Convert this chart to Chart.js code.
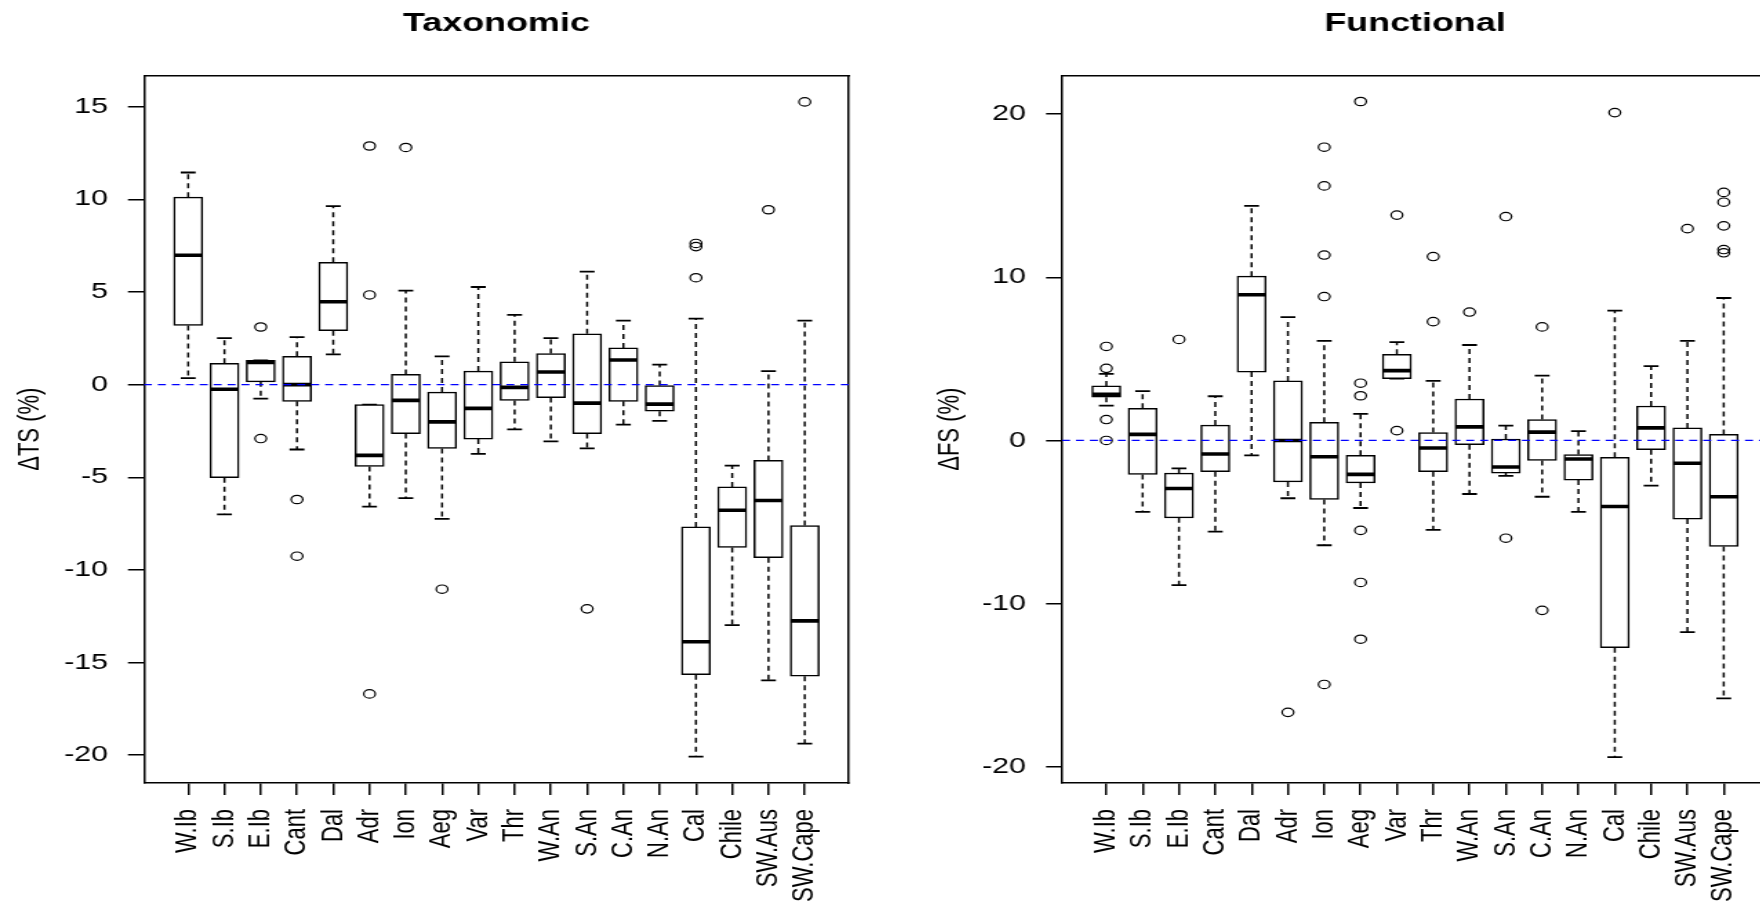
<!DOCTYPE html>
<html>
<head>
<meta charset="utf-8">
<script src="https://cdn.jsdelivr.net/npm/chart.js@4.4.1/dist/chart.umd.min.js"></script>
<style>
  html, body { margin: 0; padding: 0; background: #fff; overflow: hidden; width: 1760px; height: 905px; }
  /* the original picture is stretched sideways, so each panel is too */
  .panel { position: absolute; top: 0; height: 905px; transform-origin: 0 0; transform: scaleX(1.38); }
</style>
</head>
<body>
<div class="panel" style="left:0;width:638px"><canvas id="tsChart" width="638" height="905"></canvas></div>
<div class="panel" style="left:880px;width:660px"><canvas id="fsChart" width="660" height="905"></canvas></div>
<script>
const categories = ['W.Ib', 'S.Ib', 'E.Ib', 'Cant', 'Dal', 'Adr', 'Ion', 'Aeg', 'Var', 'Thr',
                    'W.An', 'S.An', 'C.An', 'N.An', 'Cal', 'Chile', 'SW.Aus', 'SW.Cape'];

// taxonomic: whisker low, Q1, median, Q3, whisker high, outliers
const tsLow  = [0.35, -7.0, -0.75, -3.5, 1.63, -6.58, -6.12, -7.25, -3.74, -2.41, -3.06, -3.44, -2.16, -1.96, -20.08, -12.98, -15.96, -19.38];
const tsQ1   = [3.19, -5.02, 0.15, -0.9, 2.91, -4.42, -2.64, -3.44, -2.94, -0.85, -0.7, -2.64, -0.9, -1.43, -15.66, -8.79, -9.34, -15.74];
const tsMed  = [6.98, -0.25, 1.2, 0.0, 4.47, -3.82, -0.85, -2.01, -1.28, -0.15, 0.68, -1.0, 1.33, -1.05, -13.88, -6.78, -6.25, -12.75];
const tsQ3   = [10.12, 1.15, 1.31, 1.53, 6.6, -1.08, 0.55, -0.4, 0.73, 1.23, 1.68, 2.74, 1.98, -0.05, -7.68, -5.52, -4.09, -7.6];
const tsHigh = [11.45, 2.51, 1.31, 2.56, 9.64, -1.08, 5.07, 1.53, 5.27, 3.77, 2.51, 6.1, 3.46, 1.08, 3.56, -4.37, 0.73, 3.46];
const tsOut  = [[], [], [3.11, -2.91], [-6.2, -9.26], [], [12.88, 4.84, -16.69], [12.8], [-11.04], [], [],
                [], [-12.1], [], [], [7.62, 7.45, 5.77], [], [9.44], [15.26]];

// functional
const fsLow  = [2.14, -4.37, -8.87, -5.59, -0.91, -3.54, -6.42, -4.14, 3.79, -5.48, -3.28, -2.17, -3.45, -4.37, -19.4, -2.77, -11.75, -15.8];
const fsQ1   = [2.65, -2.08, -4.74, -1.91, 4.19, -2.54, -3.62, -2.6, 3.79, -1.91, -0.26, -2.0, -1.23, -2.43, -12.7, -0.57, -4.82, -6.5];
const fsMed  = [2.83, 0.37, -2.94, -0.83, 8.93, 0.0, -1.0, -2.08, 4.28, -0.46, 0.83, -1.63, 0.51, -1.14, -4.05, 0.77, -1.4, -3.45];
const fsQ3   = [3.34, 1.97, -2.0, 0.94, 10.07, 3.65, 1.11, -0.91, 5.28, 0.49, 2.54, 0.09, 1.28, -0.86, -1.03, 2.11, 0.77, 0.37];
const fsHigh = [4.08, 3.02, -1.71, 2.71, 14.38, 7.56, 6.1, 1.63, 6.02, 3.65, 5.85, 0.91, 3.97, 0.57, 7.96, 4.56, 6.1, 8.73];
const fsOut  = [[5.76, 4.42, 1.28, 0], [], [6.19], [], [], [-16.66], [17.97, 15.6, 11.36, 8.82, -14.95],
                [20.77, 3.51, 2.74, -5.51, -8.7, -12.18], [13.81, 0.6], [11.27, 7.28], [7.87], [13.72, -5.99],
                [6.96, -10.41], [], [20.09], [], [12.98], [15.2, 14.6, 13.15, 11.7, 11.5]];

const tsTicks = [-20, -15, -10, -5, 0, 5, 10, 15];
const fsTicks = [-20, -10, 0, 10, 20];

const xMin = -0.22, xMax = 19.22;
const FONT = '"Liberation Sans", Arial, sans-serif';

function boxDatasets(lo, q1, med, q3, hi, out) {
    const boxes = [], medians = [], whiskers = [], caps = [], points = [];
    categories.forEach((c, i) => {
        const x = i + 1;
        boxes.push({x: x, y: [q1[i], q3[i]]});
        medians.push({x: x, y: med[i]});
        whiskers.push({x: x, y: q3[i]}, {x: x, y: hi[i]}, {x: x, y: null},
                      {x: x, y: q1[i]}, {x: x, y: lo[i]}, {x: x, y: null});
        caps.push({x: x, y: lo[i]}, {x: x, y: hi[i]});
        out[i].forEach(v => points.push({x: x, y: v}));
    });
    return [
        { type: 'line', data: [{x: xMin, y: 0}, {x: xMax, y: 0}], borderColor: '#0000ff',
          borderWidth: 1.3, borderDash: [5.8, 4.3], pointRadius: 0, order: 0 },
        { type: 'line', data: points, showLine: false, pointStyle: 'circle', pointRadius: 4.2,
          pointBorderWidth: 1.2, pointBorderColor: '#000', pointBackgroundColor: 'rgba(0,0,0,0)', order: 1 },
        { type: 'line', data: medians, showLine: false, pointStyle: 'line', pointRadius: 10,
          pointBorderWidth: 3.6, pointBorderColor: '#000', order: 2 },
        { type: 'bar', data: boxes, backgroundColor: '#fff', borderColor: '#000', borderWidth: 1.5,
          borderSkipped: false, barThickness: 21, order: 3 },
        { type: 'line', data: caps, showLine: false, pointStyle: 'line', pointRadius: 5.4,
          pointBorderWidth: 1.8, pointBorderColor: '#000', order: 4 },
        { type: 'line', data: whiskers, borderColor: '#000', borderWidth: 1.5, borderDash: [5, 4],
          pointRadius: 0, spanGaps: false, order: 5 }
    ];
}

function makeChart(id, title, yLabel, datasets, yMin, yMax, yTicks, yWidth, yTitlePad, rightWidth) {
    const axisLine = { display: true, color: '#000', width: 1.5 };
    return new Chart(document.getElementById(id), {
        type: 'bar',
        data: { datasets: datasets },
        options: {
            responsive: false,
            animation: false,
            events: [],
            layout: { padding: 0 },
            plugins: { legend: { display: false }, tooltip: { enabled: false } },
            scales: {
                x: {
                    type: 'linear', min: xMin, max: xMax, offset: false,
                    afterBuildTicks: s => { s.ticks = categories.map((c, i) => ({value: i + 1})); },
                    afterFit: s => { s.height = 122; },
                    ticks: { autoSkip: false, minRotation: 90, maxRotation: 90, padding: 14, color: '#000',
                             font: { family: FONT, size: 22 }, callback: v => categories[v - 1] },
                    grid: { offset: false, drawOnChartArea: false, drawTicks: true, tickLength: 12,
                            color: '#000', lineWidth: 1.5 },
                    border: axisLine
                },
                x2: {
                    type: 'linear', position: 'top', display: true,
                    afterFit: s => { s.height = 75.4; },
                    ticks: { display: false },
                    grid: { offset: false, drawOnChartArea: false, drawTicks: false },
                    border: axisLine,
                    title: { display: true, text: title, color: '#000', padding: { top: 8, bottom: 0 },
                             font: { family: FONT, size: 26, weight: 'bold' } }
                },
                y: {
                    type: 'linear', min: yMin, max: yMax,
                    afterBuildTicks: s => { s.ticks = yTicks.map(v => ({value: v})); },
                    afterFit: s => { s.width = yWidth; },
                    ticks: { padding: 14.5, color: '#000', font: { family: FONT, size: 22 }, callback: v => String(v) },
                    grid: { drawOnChartArea: false, drawTicks: true, tickLength: 11.6, color: '#000', lineWidth: 1.5 },
                    border: axisLine,
                    title: { display: true, text: yLabel, color: '#000', padding: { top: yTitlePad, bottom: 0 },
                             font: { family: FONT, size: 22 } }
                },
                y2: {
                    type: 'linear', position: 'right', display: true,
                    afterFit: s => { s.width = rightWidth; },
                    ticks: { display: false },
                    grid: { drawOnChartArea: false, drawTicks: false },
                    border: axisLine
                }
            }
        }
    });
}

makeChart('tsChart', 'Taxonomic', 'ΔTS (%)',
          boxDatasets(tsLow, tsQ1, tsMed, tsQ3, tsHigh, tsOut),
          -21.5, 16.69, tsTicks, 104.3, 8.5, 22.8);

makeChart('fsChart', 'Functional', 'ΔFS (%)',
          boxDatasets(fsLow, fsQ1, fsMed, fsQ3, fsHigh, fsOut),
          -20.99, 22.37, fsTicks, 131.9, 37.5, 16.5);
</script>
</body>
</html>
